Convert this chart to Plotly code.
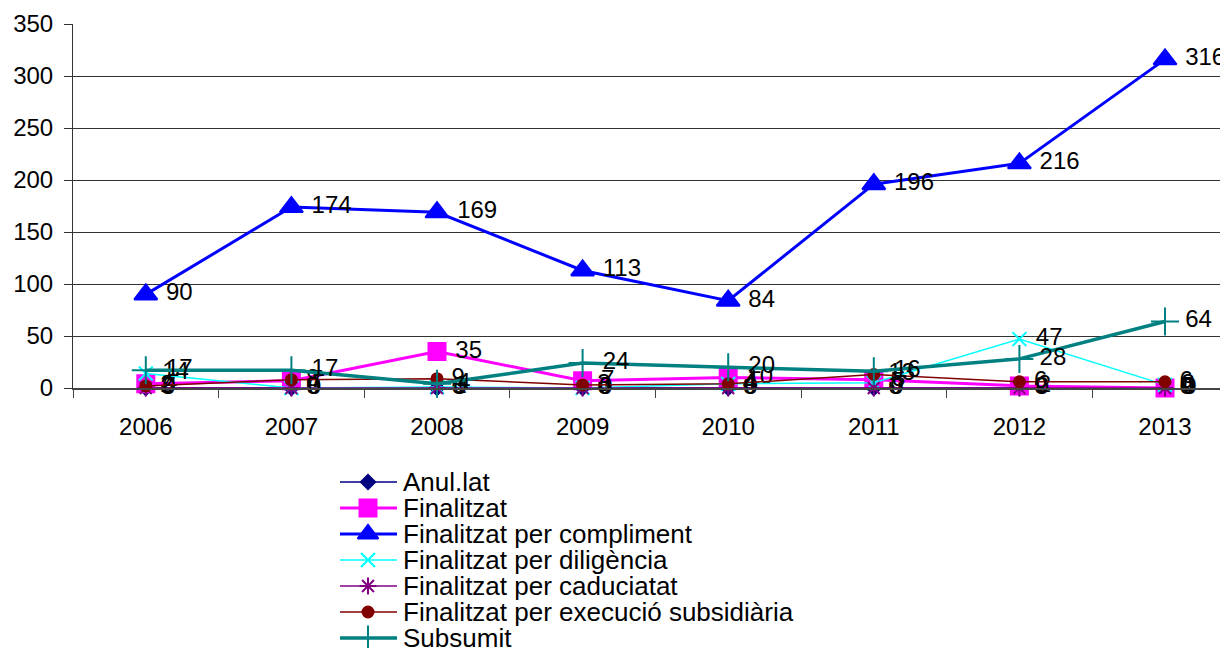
import plotly.graph_objects as go

years = ["2006", "2007", "2008", "2009", "2010", "2011", "2012", "2013"]
anullat = [0, 0, 0, 0, 0, 0, 0, 0]
finalitzat = [4, 7, 35, 7, 10, 8, 2, 0]
compliment = [90, 174, 169, 113, 84, 196, 216, 316]
diligencia = [14, 0, 1, 0, 4, 5, 47, 3]
caduciatat = [0, 0, 0, 0, 0, 0, 0, 0]
execucio = [2, 8, 9, 3, 4, 13, 6, 6]
subsumit = [17, 17, 4, 24, 20, 16, 28, 64]

names = ["Anul.lat", "Finalitzat", "Finalitzat per compliment",
         "Finalitzat per diligència", "Finalitzat per caduciatat",
         "Finalitzat per execució subsidiària", "Subsumit"]
values = [anullat, finalitzat, compliment, diligencia, caduciatat, execucio, subsumit]

styles = [
    dict(color="#000080", sym="diamond", size=11, lw=1.5),
    dict(color="#FF00FF", sym="square", size=17, lw=3),
    dict(color="#0000FF", sym="triangle-up", size=20, lw=3),
    dict(color="#00FFFF", sym="x-thin-open", size=14, lw=1.5),
    dict(color="#800080", sym="asterisk-open", size=14, lw=1.5),
    dict(color="#800000", sym="circle", size=11, lw=1.5),
    dict(color="#008080", sym="cross-thin-open", size=20, lw=3.5),
]

FONT = "Liberation Sans, Arial"
W, H = 1228, 648
OFF = 8  # page body margin offset compensation
plot_left, plot_top, plot_bottom = 73 - OFF, 24 - OFF, 388 - OFF

fig = go.Figure()
for name, vals, st in zip(names, values, styles):
    fig.add_trace(go.Scatter(
        x=years, y=vals, name=name, mode="lines+markers+text",
        line=dict(color=st["color"], width=st["lw"]),
        marker=dict(symbol=st["sym"], size=st["size"], color=st["color"],
                    line=dict(color=st["color"], width=2)),
        text=[" " + str(v) for v in vals], textposition="middle right",
        textfont=dict(family=FONT, size=24, color="black"),
        cliponaxis=False, showlegend=False,
        xaxis="x", yaxis="y",
    ))

# custom legend drawn on a helper axis (pixel-like coordinates)
leg_x0, leg_x1, leg_xm, leg_tx = 340 - OFF, 397 - OFF, 368 - OFF, 401 - OFF
for i, (name, st) in enumerate(zip(names, styles)):
    fig.add_trace(go.Scatter(
        x=[leg_x0, leg_x1], y=[i, i], mode="lines",
        line=dict(color=st["color"], width=st["lw"]),
        showlegend=False, hoverinfo="skip", xaxis="x2", yaxis="y2",
    ))
    fig.add_trace(go.Scatter(
        x=[leg_xm], y=[i], mode="markers",
        marker=dict(symbol=st["sym"], size=st["size"] if st["size"] < 18 else st["size"] - 2,
                    color=st["color"], line=dict(color=st["color"], width=2)),
        showlegend=False, hoverinfo="skip", xaxis="x2", yaxis="y2",
    ))
    fig.add_annotation(
        x=leg_tx, y=i, xref="x2", yref="y2", text=name, showarrow=False,
        xanchor="left", yanchor="middle",
        font=dict(family=FONT, size=26, color="black"),
    )

row0_px, row_gap = 482 - OFF, 26
leg_top_px, leg_bot_px = 440, 648

cat_px = 145.6
plot_w = W - plot_left
x_end = -0.5 + plot_w / cat_px

fig.update_layout(
    width=W, height=H,
    margin=dict(l=0, r=0, t=0, b=0, autoexpand=False),
    plot_bgcolor="white", paper_bgcolor="white",
    font=dict(family=FONT, size=24, color="black"),
    showlegend=False,
    xaxis=dict(
        domain=[plot_left / W, 1], type="category", range=[-0.5, x_end],
        showgrid=False, showline=True, linecolor="#444", linewidth=2,
        ticks="outside", tickson="boundaries", ticklen=8, tickcolor="#444",
        tickfont=dict(size=24), zeroline=False, anchor="y",
        ticklabelstandoff=16,
    ),
    yaxis=dict(
        domain=[(H - plot_bottom) / H, (H - plot_top) / H],
        range=[0, 350], dtick=50,
        showgrid=True, gridcolor="#333", gridwidth=1,
        showline=True, linecolor="#333", linewidth=1,
        ticks="outside", ticklen=8, tickcolor="#333",
        tickfont=dict(size=24), zeroline=False, anchor="x",
        ticklabelstandoff=6,
    ),
    xaxis2=dict(domain=[0, 1], range=[0, W], visible=False, anchor="y2", fixedrange=True),
    yaxis2=dict(
        domain=[(H - leg_bot_px) / H, (H - leg_top_px) / H],
        range=[(leg_bot_px - row0_px) / row_gap, (leg_top_px - row0_px) / row_gap],
        visible=False, anchor="x2", fixedrange=True,
    ),
)

fig.write_html("out.html")
